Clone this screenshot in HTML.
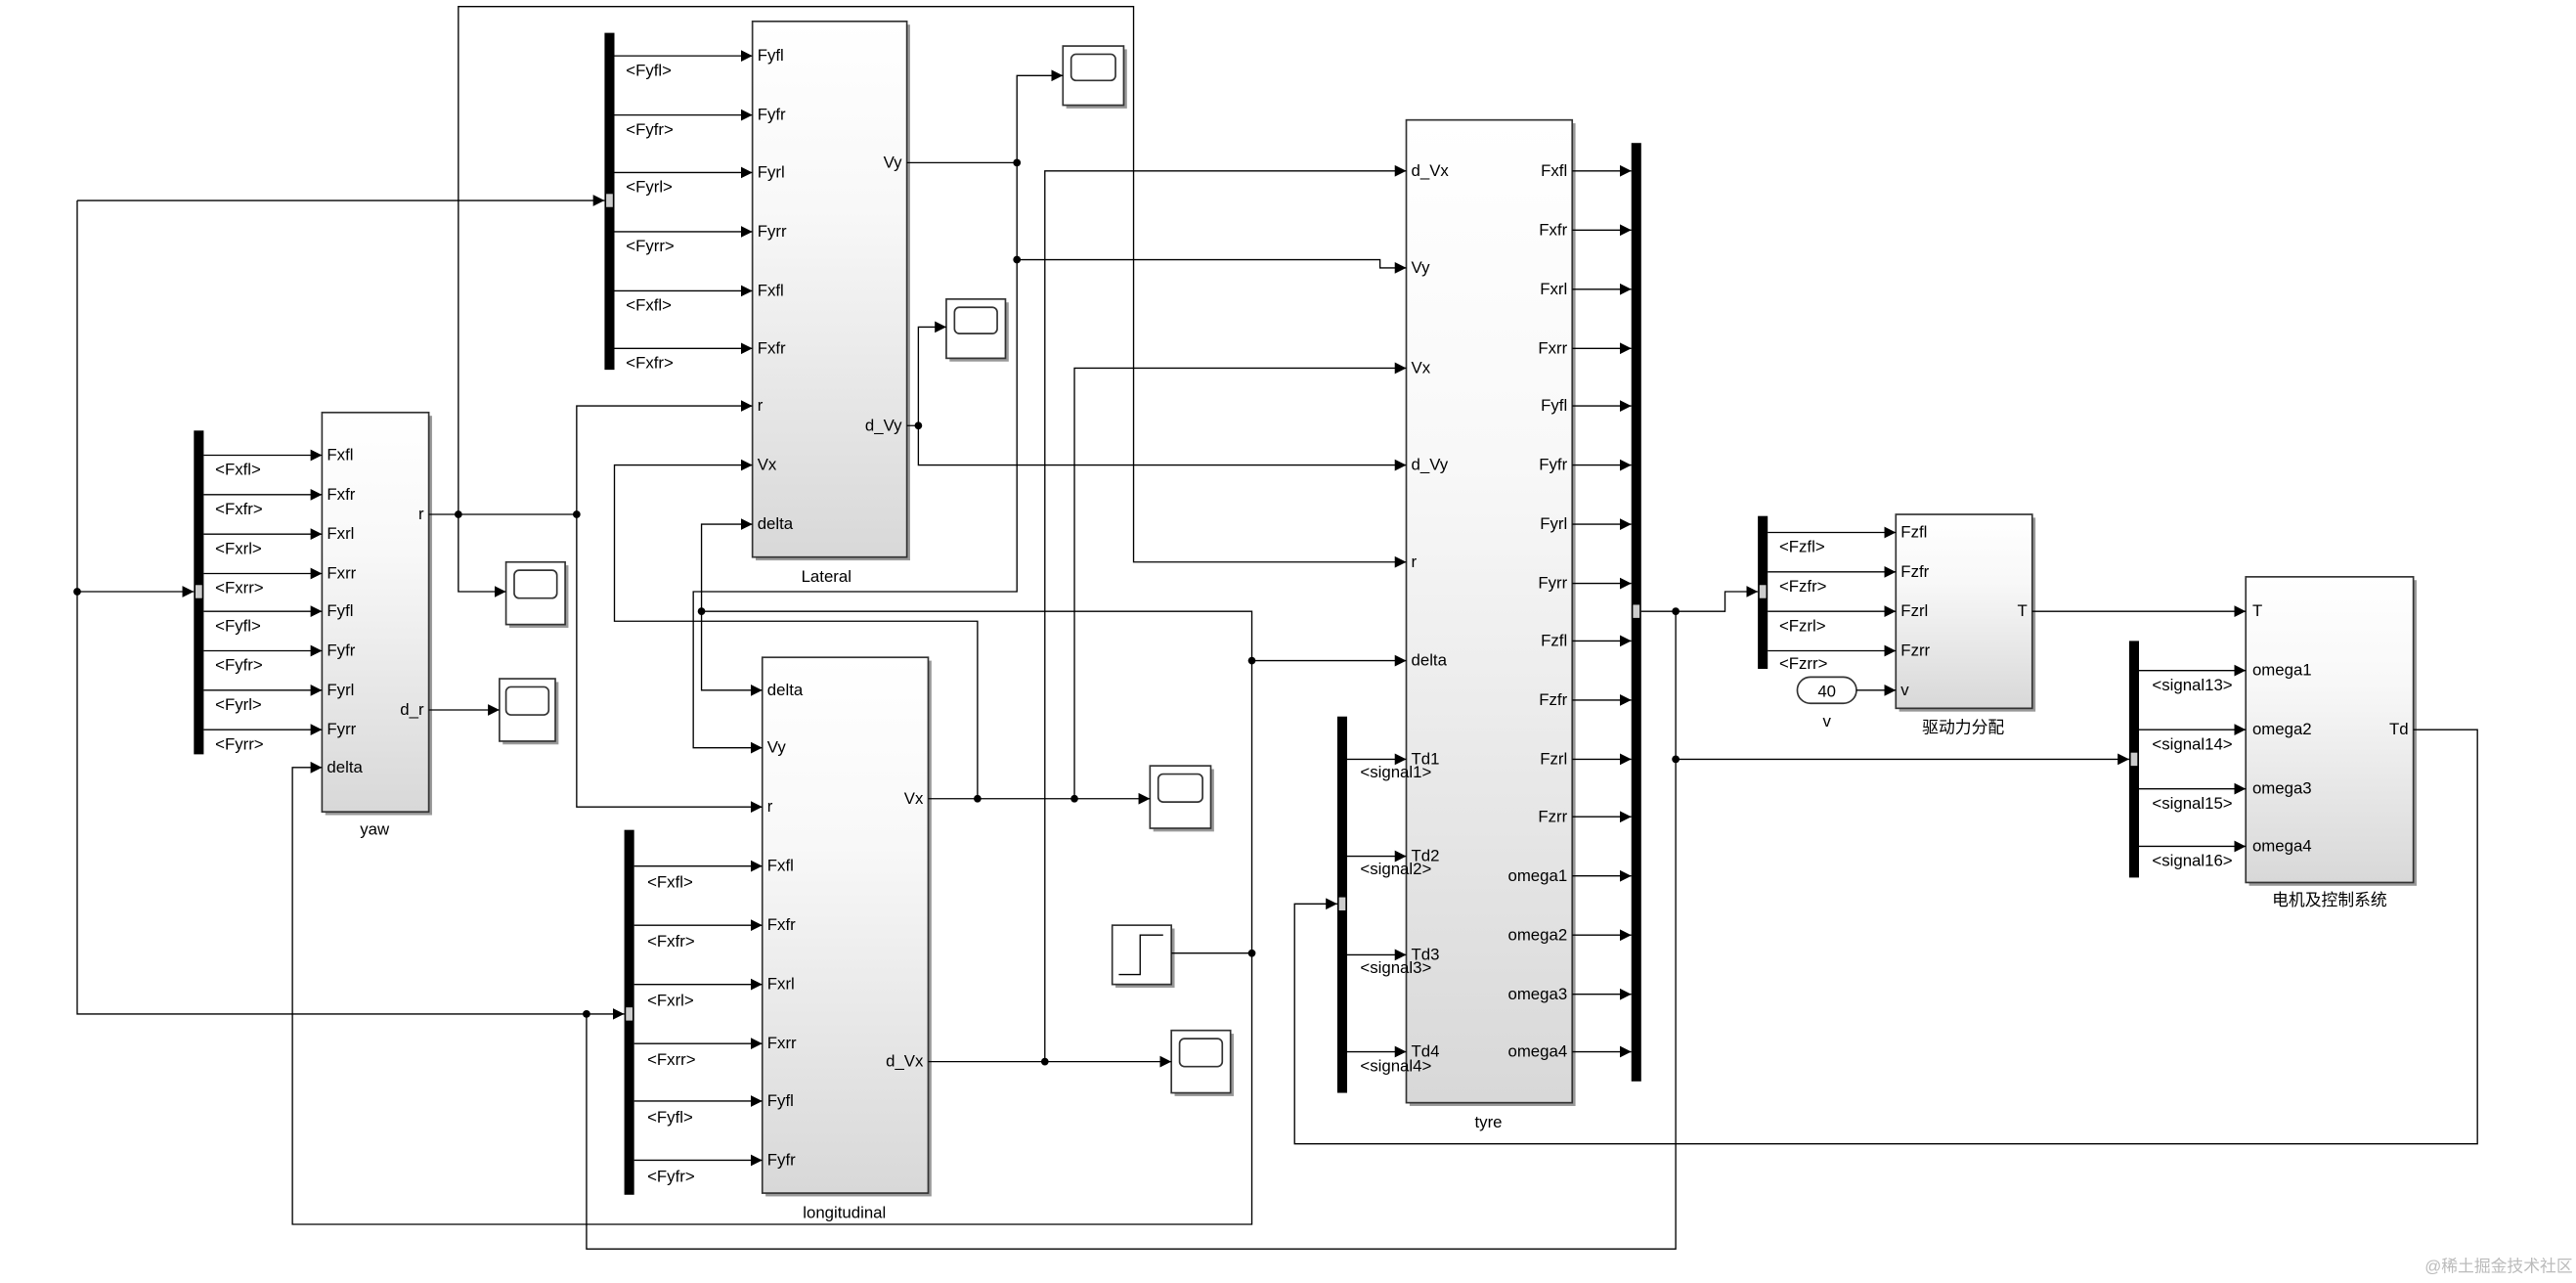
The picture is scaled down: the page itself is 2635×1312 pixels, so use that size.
<!DOCTYPE html>
<html><head><meta charset="utf-8"><style>
html,body{margin:0;padding:0;background:#fff;}
svg{display:block;}
text{font-family:"Liberation Sans","Noto Sans CJK SC",sans-serif;font-size:10px;fill:#000;}
.l{fill:none;stroke:#000;stroke-width:0.8;}
.bus{fill:#000;}
.blk{stroke:#333;stroke-width:1;fill:url(#g);}
.sc{fill:#fff;stroke:#333;stroke-width:1;}
.lab{font-size:9.5px;}
</style></head><body>
<svg width="2635" height="1312" viewBox="0 0 1568 780.7" preserveAspectRatio="none" xmlns="http://www.w3.org/2000/svg">
<defs>
<linearGradient id="g" x1="0" y1="0" x2="0" y2="1"><stop offset="0" stop-color="#ffffff"/><stop offset="0.35" stop-color="#f8f8f8"/><stop offset="1" stop-color="#d8d8d8"/></linearGradient>
<marker id="a" markerUnits="userSpaceOnUse" markerWidth="8" markerHeight="8" refX="7" refY="4" orient="auto"><path d="M0,0.5 L7,4 L0,7.5 Z" fill="#000"/></marker>
</defs>

<!-- shadows -->
<g fill="#999">
<rect x="460" y="15" width="94" height="326"/>
<rect x="198" y="253" width="65" height="243"/>
<rect x="466" y="402" width="101" height="326"/>
<rect x="858" y="75" width="101" height="598"/>
<rect x="1156" y="315" width="83" height="118"/>
<rect x="1369" y="353" width="102" height="186"/>
</g>
<!-- blocks -->
<rect class="blk" x="458" y="13" width="94" height="326"/>
<rect class="blk" x="196" y="251" width="65" height="243"/>
<rect class="blk" x="464" y="400" width="101" height="326"/>
<rect class="blk" x="856" y="73" width="101" height="598"/>
<rect class="blk" x="1154" y="313" width="83" height="118"/>
<rect class="blk" x="1367" y="351" width="102" height="186"/>

<!-- buses -->
<rect class="bus" x="368" y="20" width="6" height="205"/>
<rect class="bus" x="118" y="262" width="6" height="197"/>
<rect class="bus" x="380" y="505" width="6" height="222"/>
<rect class="bus" x="993" y="87" width="6" height="571"/>
<rect class="bus" x="814" y="436" width="6" height="229"/>
<rect class="bus" x="1070" y="314" width="6" height="93"/>
<rect class="bus" x="1296" y="390" width="6" height="144"/>
<g fill="#ccc">
<rect x="369" y="118" width="4" height="8"/><rect x="119" y="356" width="4" height="8"/>
<rect x="381" y="613" width="4" height="8"/><rect x="994" y="368" width="4" height="8"/>
<rect x="815" y="546" width="4" height="8"/><rect x="1071" y="356" width="4" height="8"/>
<rect x="1297" y="458" width="4" height="8"/>
</g>

<!-- scopes -->
<g>
<rect x="649" y="30" width="37" height="36" fill="#999"/><rect class="sc" x="647" y="28" width="37" height="36"/><rect x="652" y="33" width="27" height="16" rx="3" class="sc" stroke-width="1.3"/>
<rect x="578" y="184" width="36" height="36" fill="#999"/><rect class="sc" x="576" y="182" width="36" height="36"/><rect x="581" y="187" width="26" height="16" rx="3" class="sc" stroke-width="1.3"/>
<rect x="310" y="344" width="36" height="38" fill="#999"/><rect class="sc" x="308" y="342" width="36" height="38"/><rect x="313" y="347" width="26" height="17" rx="3" class="sc" stroke-width="1.3"/>
<rect x="306" y="415" width="34" height="38" fill="#999"/><rect class="sc" x="304" y="413" width="34" height="38"/><rect x="308" y="418" width="26" height="17" rx="3" class="sc" stroke-width="1.3"/>
<rect x="702" y="468" width="37" height="38" fill="#999"/><rect class="sc" x="700" y="466" width="37" height="38"/><rect x="705" y="471" width="27" height="17" rx="3" class="sc" stroke-width="1.3"/>
<rect x="715" y="629" width="36" height="38" fill="#999"/><rect class="sc" x="713" y="627" width="36" height="38"/><rect x="718" y="632" width="26" height="17" rx="3" class="sc" stroke-width="1.3"/>
<rect x="679" y="565" width="36" height="36" fill="#999"/><rect class="sc" x="677" y="563" width="36" height="36"/>
<path class="l" d="M681 593 H694 V569 H708" stroke-width="1"/>
<rect x="1094" y="412" width="36" height="16" rx="8" class="sc"/>
</g>

<!-- connections -->
<g class="l">
<path d="M47 122 H368" marker-end="url(#a)"/>
<path d="M47 122 V617 H380" marker-end="url(#a)"/>
<path d="M47 360 H118" marker-end="url(#a)"/>
<path d="M374 34 H458" marker-end="url(#a)"/><path d="M374 70 H458" marker-end="url(#a)"/>
<path d="M374 105 H458" marker-end="url(#a)"/><path d="M374 141 H458" marker-end="url(#a)"/>
<path d="M374 177 H458" marker-end="url(#a)"/><path d="M374 212 H458" marker-end="url(#a)"/>
<path d="M124 277 H196" marker-end="url(#a)"/><path d="M124 301 H196" marker-end="url(#a)"/>
<path d="M124 325 H196" marker-end="url(#a)"/><path d="M124 349 H196" marker-end="url(#a)"/>
<path d="M124 372 H196" marker-end="url(#a)"/><path d="M124 396 H196" marker-end="url(#a)"/>
<path d="M124 420 H196" marker-end="url(#a)"/><path d="M124 444 H196" marker-end="url(#a)"/>
<path d="M386 527 H464" marker-end="url(#a)"/><path d="M386 563 H464" marker-end="url(#a)"/>
<path d="M386 599 H464" marker-end="url(#a)"/><path d="M386 635 H464" marker-end="url(#a)"/>
<path d="M386 670 H464" marker-end="url(#a)"/><path d="M386 706 H464" marker-end="url(#a)"/>
<path d="M261 313 H351"/>
<path d="M279 313 V4 H690 V342 H856" marker-end="url(#a)"/>
<path d="M279 313 V360 H308" marker-end="url(#a)"/>
<path d="M351 313 V247 H458" marker-end="url(#a)"/>
<path d="M351 313 V491 H464" marker-end="url(#a)"/>
<path d="M261 432 H304" marker-end="url(#a)"/>
<path d="M552 99 H619 V46 H647" marker-end="url(#a)"/>
<path d="M619 99 V158 H840 V163 H856" marker-end="url(#a)"/>
<path d="M619 158 V360 H422 V455 H464" marker-end="url(#a)"/>
<path d="M552 259 H559 V199 H576" marker-end="url(#a)"/>
<path d="M559 259 V283 H856" marker-end="url(#a)"/>
<path d="M565 486 H700" marker-end="url(#a)"/>
<path d="M595 486 V378 H374 V283 H458" marker-end="url(#a)"/>
<path d="M654 486 V224 H856" marker-end="url(#a)"/>
<path d="M565 646 H713" marker-end="url(#a)"/>
<path d="M636 646 V104 H856" marker-end="url(#a)"/>
<path d="M427 372 H762 V745 H178 V467 H196" marker-end="url(#a)"/>
<path d="M427 372 V319 H458" marker-end="url(#a)"/>
<path d="M427 372 V420 H464" marker-end="url(#a)"/>
<path d="M762 402 H856" marker-end="url(#a)"/>
<path d="M713 580 H762"/>
<path d="M957 104 H993" marker-end="url(#a)"/><path d="M957 140 H993" marker-end="url(#a)"/>
<path d="M957 176 H993" marker-end="url(#a)"/><path d="M957 212 H993" marker-end="url(#a)"/>
<path d="M957 247 H993" marker-end="url(#a)"/><path d="M957 283 H993" marker-end="url(#a)"/>
<path d="M957 319 H993" marker-end="url(#a)"/><path d="M957 355 H993" marker-end="url(#a)"/>
<path d="M957 390 H993" marker-end="url(#a)"/><path d="M957 426 H993" marker-end="url(#a)"/>
<path d="M957 462 H993" marker-end="url(#a)"/><path d="M957 497 H993" marker-end="url(#a)"/>
<path d="M957 533 H993" marker-end="url(#a)"/><path d="M957 569 H993" marker-end="url(#a)"/>
<path d="M957 605 H993" marker-end="url(#a)"/><path d="M957 640 H993" marker-end="url(#a)"/>
<path d="M999 372 H1050 V360 H1070" marker-end="url(#a)"/>
<path d="M1020 372 V760 H357 V617"/>
<path d="M1020 462 H1296" marker-end="url(#a)"/>
<path d="M820 462 H856" marker-end="url(#a)"/><path d="M820 521 H856" marker-end="url(#a)"/>
<path d="M820 581 H856" marker-end="url(#a)"/><path d="M820 640 H856" marker-end="url(#a)"/>
<path d="M1469 444 H1508 V696 H788 V550 H814" marker-end="url(#a)"/>
<path d="M1076 324 H1154" marker-end="url(#a)"/><path d="M1076 348 H1154" marker-end="url(#a)"/>
<path d="M1076 372 H1154" marker-end="url(#a)"/><path d="M1076 396 H1154" marker-end="url(#a)"/>
<path d="M1130 420 H1154" marker-end="url(#a)"/>
<path d="M1237 372 H1367" marker-end="url(#a)"/>
<path d="M1302 408 H1367" marker-end="url(#a)"/><path d="M1302 444 H1367" marker-end="url(#a)"/>
<path d="M1302 480 H1367" marker-end="url(#a)"/><path d="M1302 515 H1367" marker-end="url(#a)"/>
</g>
<g fill="#000">
<circle cx="47" cy="360" r="2.3"/><circle cx="279" cy="313" r="2.3"/><circle cx="351" cy="313" r="2.3"/>
<circle cx="619" cy="99" r="2.3"/><circle cx="619" cy="158" r="2.3"/><circle cx="559" cy="259" r="2.3"/>
<circle cx="595" cy="486" r="2.3"/><circle cx="654" cy="486" r="2.3"/><circle cx="636" cy="646" r="2.3"/>
<circle cx="427" cy="372" r="2.3"/><circle cx="762" cy="402" r="2.3"/><circle cx="762" cy="580" r="2.3"/>
<circle cx="1020" cy="372" r="2.3"/><circle cx="1020" cy="462" r="2.3"/><circle cx="357" cy="617" r="2.3"/>
</g>

<!-- port labels -->
<g>
<text x="461" y="37">Fyfl</text><text x="461" y="73">Fyfr</text><text x="461" y="108">Fyrl</text>
<text x="461" y="144">Fyrr</text><text x="461" y="180">Fxfl</text><text x="461" y="215">Fxfr</text>
<text x="461" y="250">r</text><text x="461" y="286">Vx</text><text x="461" y="322">delta</text>
<text x="549" y="102" text-anchor="end">Vy</text><text x="549" y="262" text-anchor="end">d_Vy</text>
<text x="503" y="354" text-anchor="middle" font-size="10.5">Lateral</text>

<text x="199" y="280">Fxfl</text><text x="199" y="304">Fxfr</text><text x="199" y="328">Fxrl</text>
<text x="199" y="352">Fxrr</text><text x="199" y="375">Fyfl</text><text x="199" y="399">Fyfr</text>
<text x="199" y="423">Fyrl</text><text x="199" y="447">Fyrr</text><text x="199" y="470">delta</text>
<text x="258" y="316" text-anchor="end">r</text><text x="258" y="435" text-anchor="end">d_r</text>
<text x="228" y="508" text-anchor="middle" font-size="10.5">yaw</text>

<text x="467" y="423">delta</text><text x="467" y="458">Vy</text><text x="467" y="494">r</text>
<text x="467" y="530">Fxfl</text><text x="467" y="566">Fxfr</text><text x="467" y="602">Fxrl</text>
<text x="467" y="638">Fxrr</text><text x="467" y="673">Fyfl</text><text x="467" y="709">Fyfr</text>
<text x="562" y="489" text-anchor="end">Vx</text><text x="562" y="649" text-anchor="end">d_Vx</text>
<text x="514" y="741" text-anchor="middle" font-size="10.5">longitudinal</text>

<text x="859" y="107">d_Vx</text><text x="859" y="166">Vy</text><text x="859" y="227">Vx</text>
<text x="859" y="286">d_Vy</text><text x="859" y="345">r</text><text x="859" y="405">delta</text>
<text x="859" y="465">Td1</text><text x="859" y="524">Td2</text><text x="859" y="584">Td3</text><text x="859" y="643">Td4</text>
<g text-anchor="end">
<text x="954" y="107">Fxfl</text><text x="954" y="143">Fxfr</text><text x="954" y="179">Fxrl</text>
<text x="954" y="215">Fxrr</text><text x="954" y="250">Fyfl</text><text x="954" y="286">Fyfr</text>
<text x="954" y="322">Fyrl</text><text x="954" y="358">Fyrr</text><text x="954" y="393">Fzfl</text>
<text x="954" y="429">Fzfr</text><text x="954" y="465">Fzrl</text><text x="954" y="500">Fzrr</text>
<text x="954" y="536">omega1</text><text x="954" y="572">omega2</text><text x="954" y="608">omega3</text><text x="954" y="643">omega4</text>
</g>
<text x="906" y="686" text-anchor="middle" font-size="10.5">tyre</text>

<text x="1157" y="327">Fzfl</text><text x="1157" y="351">Fzfr</text><text x="1157" y="375">Fzrl</text>
<text x="1157" y="399">Fzrr</text><text x="1157" y="423">v</text>
<text x="1234" y="375" text-anchor="end">T</text>
<text x="1195" y="446" text-anchor="middle" font-size="10.5">驱动力分配</text>
<text x="1112" y="424" text-anchor="middle" font-size="10.5">40</text>
<text x="1112" y="442" text-anchor="middle">v</text>

<text x="1371" y="375">T</text><text x="1371" y="411">omega1</text><text x="1371" y="447">omega2</text>
<text x="1371" y="483">omega3</text><text x="1371" y="518">omega4</text>
<text x="1466" y="447" text-anchor="end">Td</text>
<text x="1418" y="551" text-anchor="middle" font-size="10.5">电机及控制系统</text>
</g>

<!-- signal labels -->
<g class="lab">
<text x="381" y="46">&lt;Fyfl&gt;</text><text x="381" y="82">&lt;Fyfr&gt;</text><text x="381" y="117">&lt;Fyrl&gt;</text>
<text x="381" y="153">&lt;Fyrr&gt;</text><text x="381" y="189">&lt;Fxfl&gt;</text><text x="381" y="224">&lt;Fxfr&gt;</text>
<text x="131" y="289">&lt;Fxfl&gt;</text><text x="131" y="313">&lt;Fxfr&gt;</text><text x="131" y="337">&lt;Fxrl&gt;</text>
<text x="131" y="361">&lt;Fxrr&gt;</text><text x="131" y="384">&lt;Fyfl&gt;</text><text x="131" y="408">&lt;Fyfr&gt;</text>
<text x="131" y="432">&lt;Fyrl&gt;</text><text x="131" y="456">&lt;Fyrr&gt;</text>
<text x="394" y="540">&lt;Fxfl&gt;</text><text x="394" y="576">&lt;Fxfr&gt;</text><text x="394" y="612">&lt;Fxrl&gt;</text>
<text x="394" y="648">&lt;Fxrr&gt;</text><text x="394" y="683">&lt;Fyfl&gt;</text><text x="394" y="719">&lt;Fyfr&gt;</text>
<text x="828" y="473">&lt;signal1&gt;</text><text x="828" y="532">&lt;signal2&gt;</text>
<text x="828" y="592">&lt;signal3&gt;</text><text x="828" y="652">&lt;signal4&gt;</text>
<text x="1083" y="336">&lt;Fzfl&gt;</text><text x="1083" y="360">&lt;Fzfr&gt;</text>
<text x="1083" y="384">&lt;Fzrl&gt;</text><text x="1083" y="407">&lt;Fzrr&gt;</text>
<text x="1310" y="420">&lt;signal13&gt;</text><text x="1310" y="456">&lt;signal14&gt;</text>
<text x="1310" y="492">&lt;signal15&gt;</text><text x="1310" y="527">&lt;signal16&gt;</text>
</g>
<text x="1566" y="774" text-anchor="end" font-size="10" fill="#bbb" style="fill:#bbb">@稀土掘金技术社区</text>
</svg>
</body></html>
